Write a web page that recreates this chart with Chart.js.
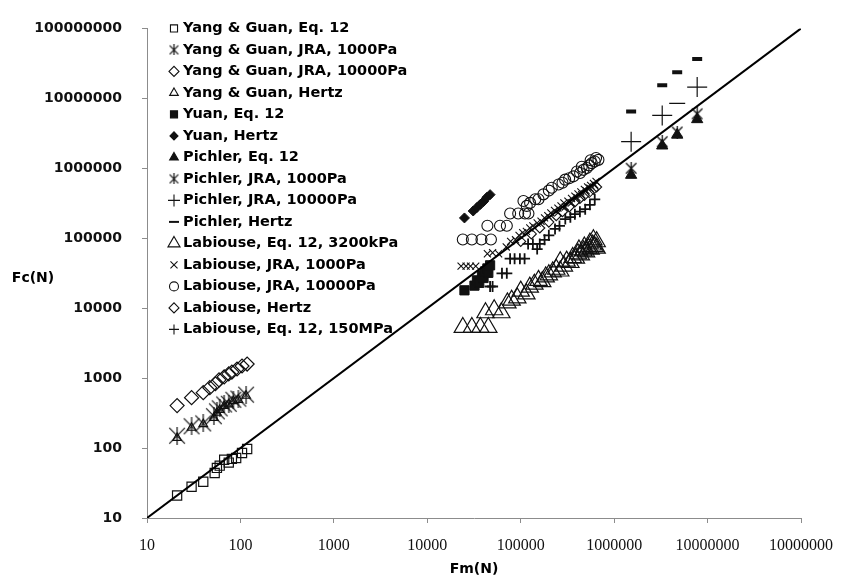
<!DOCTYPE html>
<html>
<head>
  <title>Fc vs Fm</title>
  <script src="https://cdn.jsdelivr.net/npm/chart.js"></script>
  <style>
    body { margin: 0; background: #fff; }
  </style>
</head>
<body>
  <canvas id="fcChart" width="842" height="580"></canvas>

  <script>
    // axis ticks (the last x label is printed as in the original figure)
    const xTickValues = [10, 100, 1000, 10000, 100000, 1000000, 10000000, 100000000];
    const xTickLabels = ['10', '100', '1000', '10000', '100000', '1000000', '10000000', '10000000'];
    const yTickValues = [10, 100, 1000, 10000, 100000, 1000000, 10000000, 100000000];
    const yTickLabels = ['10', '100', '1000', '10000', '100000', '1000000', '10000000', '100000000'];

    // series, [Fm, Fc] in N
    const ygEq12 = [[21,21],[30,28],[40,33],[53,44],[56,52],[60,56],[67,68],[75,62],[81,70],[90,72],[104,85],[118,97]];
    const ygJra1000 = [[21,150],[30,205],[40,225],[52,285],[56,335],[60,370],[67,420],[75,430],[84,490],[95,510],[115,580]];
    const ygJra10000 = [[21,405],[30,525],[40,620],[47,730],[54,830],[59,945],[67,1040],[75,1150],[81,1220],[92,1350],[104,1490],[118,1590]];
    const ygHertz = [[21,140],[30,195],[40,220],[52,270],[56,320],[60,350],[67,400],[75,420],[84,470],[95,490],[115,560]];
    const yuanEq12 = [[25000,18000],[32000,21000],[34000,25000],[36000,23000],[38500,29500],[40000,27000],[41500,33500],[44000,37000],[45000,32000],[47000,41000]];
    const yuanHertz = [[25000,195000],[31000,245000],[34000,275000],[37000,305000],[40000,335000],[43500,385000],[47000,420000]];
    const pichlerEq12 = [[1520000,800000],[3270000,2100000],[4730000,3000000],[7740000,5000000]];
    const pichlerJra1000 = [[1520000,1000000],[3270000,2400000],[4730000,3300000],[7740000,6000000]];
    const pichlerJra10000 = [[1520000,2400000],[3270000,5700000],[7740000,14500000]];
    const pichlerHertz = [[1520000,6500000],[3270000,15400000],[4730000,23700000],[7740000,36500000],[4730000,8500000]];
    const labEq12_3200 = [[24000,5300],[30000,5300],[37000,5300],[45000,5300],[42000,8600],[52000,9500],[62000,8600],[72000,11900],
      [80000,13000],[92000,14000],[100000,17500],[115000,16000],[125000,20000],[140000,22000],[155000,25000],[170000,24000],
      [185000,28000],[200000,30000],[220000,33000],[240000,36000],[265000,34000],[265000,46000],[290000,40000],[310000,47000],
      [340000,45000],[360000,53000],[390000,52000],[410000,60000],[440000,58000],[470000,66000],[500000,64000],[530000,72000],
      [560000,70000],[590000,80000],[620000,76000],[650000,89000],[650000,72000],[600000,95000],[550000,85000],[480000,75000],[420000,68000]];
    const labJra1000 = [[23000,40000],[26000,40000],[29000,40000],[33000,40000],[44000,60000],[50000,62000],[58000,60000],[70000,75000],
      [78000,90000],[88000,95000],[96000,110000],[105000,120000],[115000,125000],[125000,140000],[135000,150000],[150000,165000],
      [165000,175000],[180000,195000],[195000,210000],[210000,230000],[230000,250000],[250000,270000],[270000,290000],[290000,320000],
      [320000,340000],[350000,370000],[380000,400000],[410000,430000],[440000,460000],[480000,500000],[520000,540000],[560000,570000],
      [600000,610000],[640000,650000],[250000,230000],[300000,280000],[350000,320000],[400000,380000],[450000,420000],[500000,480000],
      [550000,520000],[620000,580000]];
    const labJra10000 = [[24000,96000],[30000,96000],[38000,96000],[48000,96000],[44000,151000],[60000,151000],[71000,151000],
      [77000,226000],[94000,226000],[111000,226000],[121000,226000],[107000,340000],[116000,290000],[126000,320000],[143000,360000],
      [155000,360000],[175000,424000],[215000,526000],[254000,585000],[299000,688000],[367000,767000],[432000,856000],[510000,1007000],
      [577000,1184000],[679000,1320000],[330000,720000],[400000,900000],[470000,950000],[540000,1100000],[620000,1250000],
      [640000,1400000],[560000,1300000],[450000,1050000],[280000,620000],[200000,480000]];
    const labHertz = [[100000,90000],[130000,115000],[160000,140000],[200000,170000],[240000,210000],[280000,240000],[330000,280000],
      [380000,330000],[430000,370000],[480000,410000],[540000,450000],[600000,500000],[650000,540000]];
    const labEq12_150 = [[47000,20400],[50000,20400],[63000,31500],[71000,31500],[77000,51000],[86000,51000],[98000,51000],[110000,51000],
      [120000,83000],[135000,83000],[160000,83000],[200000,110000],[233000,136000],[260000,150000],[300000,188000],[340000,200000],
      [380000,221000],[430000,240000],[490000,260000],[550000,300000],[620000,360000],[150000,70000],[180000,95000]];

    const ink = '#111';
    const none = 'rgba(0,0,0,0)';

    // asterisk marker: an X with a vertical stroke
    function makeAsterisk(size, lw) {
      const c = document.createElement('canvas');
      c.width = size; c.height = size;
      const g = c.getContext('2d');
      g.strokeStyle = ink;
      g.lineWidth = lw;
      const m = lw;
      g.beginPath();
      g.moveTo(m, m); g.lineTo(size - m, size - m);
      g.moveTo(size - m, m); g.lineTo(m, size - m);
      g.moveTo(size / 2, 0); g.lineTo(size / 2, size);
      g.stroke();
      return c;
    }
    const bigStar = makeAsterisk(18, 1.2);
    const smallStar = makeAsterisk(13, 1.3);
    const legendStar = makeAsterisk(11, 1.2);

    function pts(arr) { return arr.map(p => ({x: p[0], y: p[1]})); }

    function series(label, data, style, radius, fill, bw, legendRadius, legendStyle) {
      return {
        label: label,
        data: pts(data),
        pointStyle: style,
        pointRadius: radius,
        pointHoverRadius: radius,
        pointBorderWidth: bw,
        pointBorderColor: ink,
        pointBackgroundColor: fill ? ink : none,
        legendRadius: legendRadius,
        legendStyle: legendStyle || style,
        legendFill: fill
      };
    }

    const datasets = [
      {
        label: 'Fc = Fm',
        data: [{x: 10, y: 10}, {x: 100000000, y: 100000000}],
        showLine: true,
        borderColor: '#000',
        borderWidth: 2,
        pointRadius: 0,
        pointHoverRadius: 0
      },
      series('Yang & Guan, Eq. 12', ygEq12, 'rect', 6.5, false, 1.2, 5),
      series('Yang & Guan, JRA, 1000Pa', ygJra1000, bigStar, 9, false, 1, 6, legendStar),
      series('Yang & Guan, JRA, 10000Pa', ygJra10000, 'rectRot', 7, false, 1.2, 5),
      series('Yang & Guan, Hertz', ygHertz, 'triangle', 5, false, 1.2, 5),
      series('Yuan, Eq. 12', yuanEq12, 'rect', 6.5, true, 1, 5),
      series('Yuan, Hertz', yuanHertz, 'rectRot', 5, true, 1, 4),
      series('Pichler, Eq. 12', pichlerEq12, 'triangle', 6.5, true, 1, 5),
      series('Pichler, JRA, 1000Pa', pichlerJra1000, smallStar, 7, false, 1, 6, legendStar),
      series('Pichler, JRA, 10000Pa', pichlerJra10000, 'cross', 10, false, 1.2, 6),
      series('Pichler, Hertz', pichlerHertz, 'line', 6, false, 4, 5),
      series('Labiouse, Eq. 12, 3200kPa', labEq12_3200, 'triangle', 10, false, 1.2, 7),
      series('Labiouse, JRA, 1000Pa', labJra1000, 'crossRot', 5, false, 1.1, 5),
      series('Labiouse, JRA, 10000Pa', labJra10000, 'circle', 5.5, false, 1.1, 4.5),
      series('Labiouse, Hertz', labHertz, 'rectRot', 5, false, 1.1, 5),
      series('Labiouse, Eq. 12, 150MPa', labEq12_150, 'cross', 5.5, false, 1.8, 5)
    ];
    // thin long dash among the Pichler Hertz points
    datasets[10].pointBorderWidth = [4, 4, 4, 4, 1.3];
    datasets[10].pointRadius = [5, 5, 5, 5, 8];

    const insideLegend = {
      id: 'insideLegend',
      afterDraw(chart) {
        const ctx = chart.ctx;
        const area = chart.chartArea;
        ctx.save();
        let i = 0;
        chart.data.datasets.forEach(ds => {
          if (!ds.legendRadius) return;
          const y = area.top + i * 21.5;
          ctx.fillStyle = ds.legendFill ? ink : none;
          ctx.strokeStyle = ink;
          ctx.lineWidth = ds.legendStyle === 'line' ? 2 : 1.1;
          Chart.helpers.drawPoint(ctx, {
            pointStyle: ds.legendStyle,
            radius: ds.legendRadius,
            rotation: 0,
            borderWidth: ctx.lineWidth
          }, area.left + 27, y);
          ctx.fillStyle = '#000';
          ctx.font = 'bold 14.5px "DejaVu Sans"';
          ctx.textAlign = 'left';
          ctx.textBaseline = 'middle';
          ctx.fillText(ds.label, area.left + 36, y);
          i++;
        });
        // horizontal y-axis title
        ctx.font = 'bold 14px "DejaVu Sans"';
        ctx.textAlign = 'center';
        ctx.fillText('Fc(N)', 33, 278);
        ctx.restore();
      }
    };

    const axisGray = '#8c8c8c';

    new Chart(document.getElementById('fcChart').getContext('2d'), {
      type: 'scatter',
      data: { datasets: datasets },
      options: {
        responsive: false,
        animation: false,
        layout: { padding: { top: 22, right: 41, bottom: 0, left: 0 } },
        plugins: {
          legend: { display: false },
          tooltip: { enabled: false }
        },
        scales: {
          x: {
            type: 'logarithmic',
            min: 10,
            max: 100000000,
            afterBuildTicks: (scale) => { scale.ticks = xTickValues.map(v => ({value: v})); },
            afterFit: (scale) => {
              scale.height = 62;
              scale.paddingLeft = 0;
              scale.paddingRight = 0;
            },
            grid: { drawOnChartArea: false, drawTicks: true, tickLength: 5, color: axisGray },
            border: { display: true, color: axisGray, width: 1 },
            ticks: {
              autoSkip: false,
              maxRotation: 0,
              padding: 13,
              color: '#111',
              font: { family: '"Liberation Serif"', size: 16 },
              callback: (value, index) => xTickLabels[index]
            },
            title: {
              display: true,
              text: 'Fm(N)',
              color: '#000',
              font: { family: '"DejaVu Sans"', size: 14, weight: 'bold' },
              padding: { top: 0, bottom: 2 }
            }
          },
          y: {
            type: 'logarithmic',
            min: 10,
            max: 100000000,
            afterBuildTicks: (scale) => { scale.ticks = yTickValues.map(v => ({value: v})); },
            afterFit: (scale) => { scale.width = 147; },
            grid: { drawOnChartArea: false, drawTicks: true, tickLength: 5, color: axisGray },
            border: { display: true, color: axisGray, width: 1 },
            ticks: {
              autoSkip: false,
              padding: 20,
              color: '#111',
              font: { family: '"DejaVu Sans"', size: 14, weight: 'bold' },
              callback: (value, index) => yTickLabels[index]
            }
          }
        }
      },
      plugins: [insideLegend]
    });
  </script>
</body>
</html>
